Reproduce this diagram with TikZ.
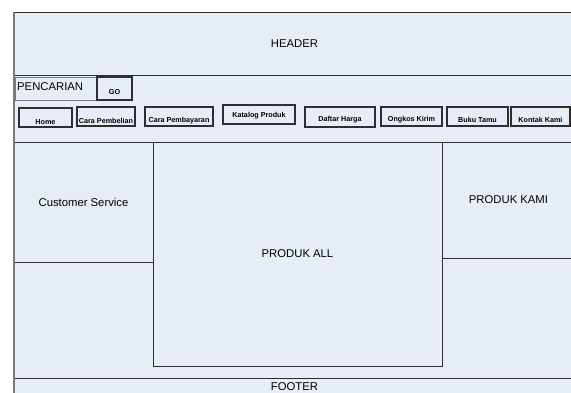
\documentclass[tikz,border=0pt]{standalone}
\usepackage{fontspec}
\setmainfont{Liberation Sans}
\definecolor{bgblue}{HTML}{E6EDF7}
\definecolor{ln}{HTML}{2E2E2E}
\definecolor{edgegray}{HTML}{7A7A7A}
\begin{document}
\begin{tikzpicture}[x=1pt,y=-1pt,
  region/.style={draw=ln, line width=1pt, fill=bgblue, inner sep=0pt, outer sep=0pt, anchor=north west, font=\fontsize{11.3}{13}\selectfont},
  navbtn/.style={draw=ln, line width=1.1pt, fill=bgblue, inner sep=0pt, outer sep=0pt, anchor=north west},
  navtxt/.style={font=\bfseries\fontsize{7.2}{8}\selectfont, inner sep=0pt},
  plaintxt/.style={font=\fontsize{11.3}{13}\selectfont, inner sep=0pt},
]
\useasboundingbox (0,0) rectangle (571,392);
\clip (0,0) rectangle (571,392);
\fill[bgblue] (14,12) rectangle (580,400);
% header
\node[region, minimum width=561pt, minimum height=63pt] (header) at (14,12) {HEADER};
% search
\node[navbtn, draw=edgegray, line width=0.9pt, minimum width=117pt, minimum height=23pt] (search) at (15,77) {};
\node[plaintxt, anchor=west] (pencarian) at (17,87) {PENCARIAN};
\node[navbtn, line width=1.2pt, minimum width=35pt, minimum height=23pt, label={[navtxt, yshift=-4pt]center:GO}] (go) at (97,77) {};
% nav buttons
\node[navbtn, minimum width=53pt, minimum height=19pt, label={[navtxt, yshift=-4.5pt]center:Home}] (home) at (19,108) {};
\node[navbtn, minimum width=58pt, minimum height=19pt, label={[navtxt, yshift=-4pt]center:Cara Pembelian}] (pembelian) at (77,107) {};
\node[navbtn, minimum width=68pt, minimum height=19pt, label={[navtxt, yshift=-4pt]center:Cara Pembayaran}] (pembayaran) at (145,107) {};
\node[navbtn, minimum width=72pt, minimum height=19pt, label={[navtxt, yshift=-1.5pt]center:Katalog Produk}] (katalog) at (223,105) {};
\node[navbtn, minimum width=70pt, minimum height=20pt, label={[navtxt, yshift=-3pt]center:Daftar Harga}] (harga) at (305,107) {};
\node[navbtn, minimum width=61pt, minimum height=19pt, label={[navtxt, yshift=-3pt]center:Ongkos Kirim}] (ongkos) at (381,107) {};
\node[navbtn, minimum width=61pt, minimum height=19pt, label={[navtxt, yshift=-3.5pt]center:Buku Tamu}] (bukutamu) at (447,107) {};
\node[navbtn, minimum width=59pt, minimum height=19pt, label={[navtxt, yshift=-3.5pt]center:Kontak Kami}] (kontak) at (511,107) {};
% main area
\node[region, minimum width=139pt, minimum height=120pt] (cs) at (14,142) {Customer Service};
\node[region, minimum width=289pt, minimum height=224pt] (all) at (153,142) {PRODUK ALL};
\node[region, minimum width=133pt, minimum height=116pt] (kami) at (442,142) {PRODUK KAMI};
% footer
\node[region, minimum width=561pt, minimum height=18pt] (footer) at (14,378) {FOOTER};
% outer left border
\draw[edgegray, line width=2pt] (header.north west) -- (footer.south west);
\end{tikzpicture}
\end{document}
